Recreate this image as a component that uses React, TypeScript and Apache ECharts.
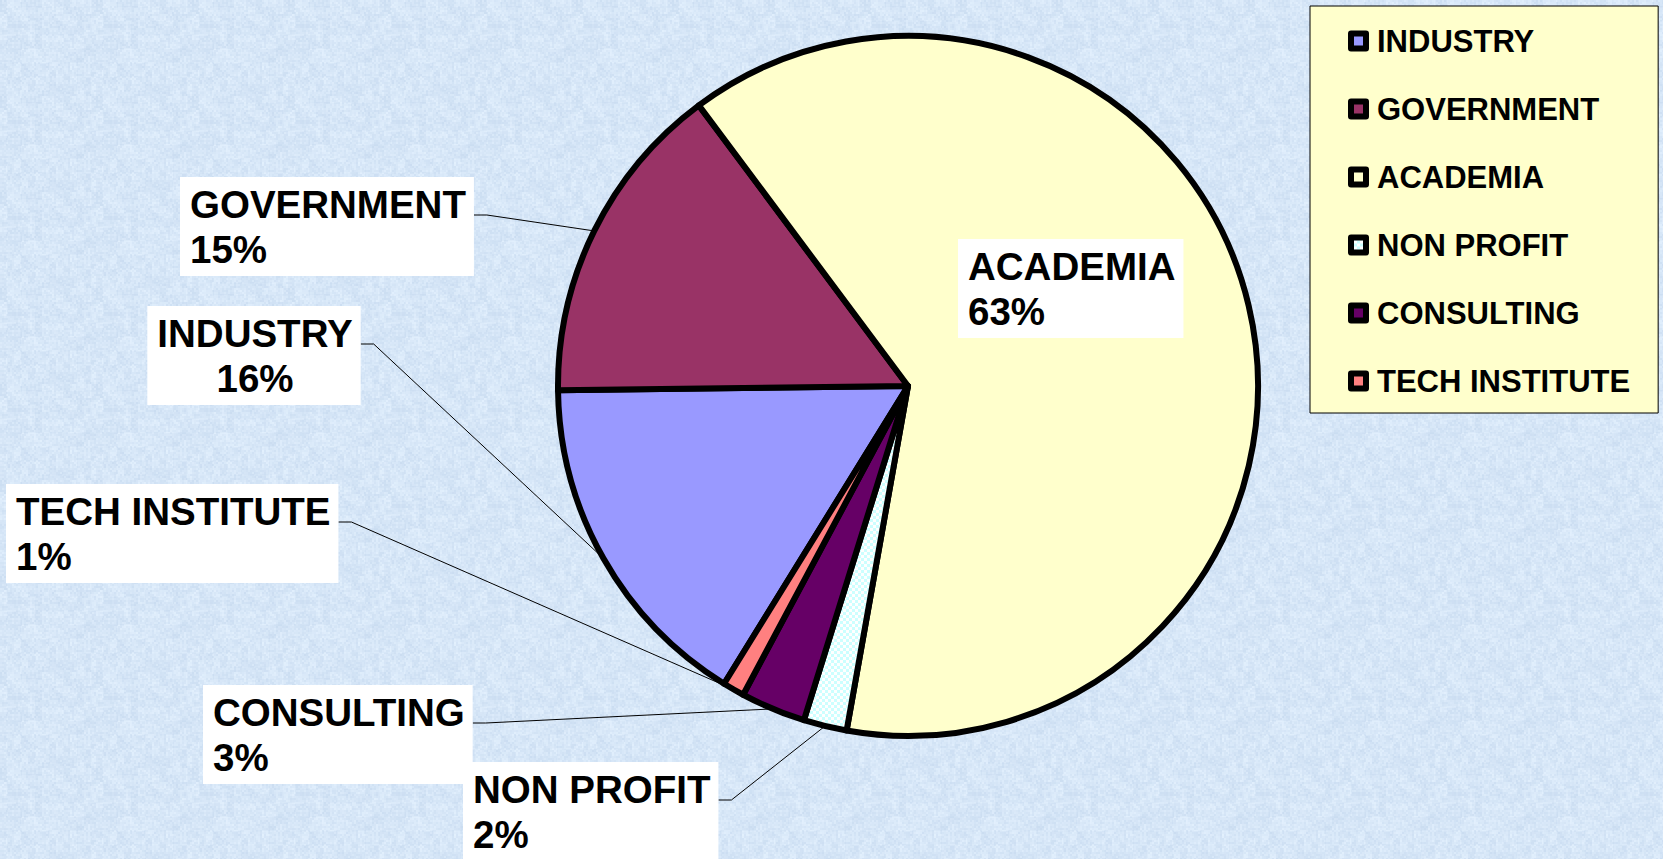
import React, { useEffect, useRef } from 'react';
import * as echarts from 'echarts';

// ---- data ----
const categories = ['INDUSTRY', 'GOVERNMENT', 'ACADEMIA', 'NON PROFIT', 'CONSULTING', 'TECH INSTITUTE'];
const shares = [16, 15, 63, 2, 3, 1];

// ---- styles ----
const sliceColors = ['#9999FF', '#993366', '#FFFFCC', 'PATTERN', '#660066', '#FF8080'];
const labelAnchors = [
  { x: 254, y: 306, align: 'center', line: true },
  { x: 180, y: 177, align: 'left', line: true },
  { x: 958, y: 239, align: 'left', line: false },
  { x: 463, y: 762, align: 'left', line: true },
  { x: 203, y: 685, align: 'left', line: true },
  { x: 6, y: 484, align: 'left', line: true },
];
const FONT = 'Arial, "Liberation Sans", sans-serif';

function makeChecker(): HTMLCanvasElement {
  const c = document.createElement('canvas');
  c.width = 6;
  c.height = 6;
  const ctx = c.getContext('2d')!;
  ctx.fillStyle = '#CCFFFF';
  ctx.fillRect(0, 0, 6, 6);
  ctx.fillStyle = '#FFFFFF';
  ctx.fillRect(0, 0, 3, 3);
  ctx.fillRect(3, 3, 3, 3);
  return c;
}

// subtle paper-like background texture (deterministic hash, no randomness)
function makeTexture(): HTMLCanvasElement {
  const size = 96;
  const c = document.createElement('canvas');
  c.width = size;
  c.height = size;
  const ctx = c.getContext('2d')!;
  const img = ctx.createImageData(size, size);
  const hash = (x: number, y: number) => {
    const s = Math.sin(x * 12.9898 + y * 78.233) * 43758.5453;
    return s - Math.floor(s);
  };
  for (let y = 0; y < size; y++) {
    for (let x = 0; x < size; x++) {
      const h = hash(Math.floor(x / 2), Math.floor(y / 2));
      const h2 = hash(Math.floor(x / 7) + 31, Math.floor(y / 7) + 17);
      const v = (h - 0.5) * 14 + (h2 - 0.5) * 10;
      const i = (y * size + x) * 4;
      img.data[i] = Math.max(0, Math.min(255, 214 + v));
      img.data[i + 1] = Math.max(0, Math.min(255, 230 + v * 0.8));
      img.data[i + 2] = Math.max(0, Math.min(255, 247 + v * 0.5));
      img.data[i + 3] = 255;
    }
  }
  ctx.putImageData(img, 0, 0);
  return c;
}

export default function App() {
  const ref = useRef<HTMLDivElement>(null);
  useEffect(() => {
    if (!ref.current) return;
    const chart = echarts.init(ref.current, undefined, { renderer: 'svg' });
    const checker = makeChecker();
    const texture = makeTexture();
    const data = categories.map((name, i) => ({
      name,
      value: shares[i],
      itemStyle: {
        color:
          sliceColors[i] === 'PATTERN'
            ? ({ image: checker, repeat: 'repeat' } as any)
            : sliceColors[i],
      },
      labelLine: { show: labelAnchors[i].line },
    }));
    chart.setOption({
      animation: false,
      backgroundColor: '#D7E7F7',
      graphic: {
        elements: [
          {
            type: 'rect',
            z: -100,
            silent: true,
            shape: { x: 0, y: 0, width: 1663, height: 859 },
            style: { fill: { image: texture, repeat: 'repeat' } as any },
          },
        ],
      },
      legend: {
        orient: 'vertical',
        left: 1310,
        top: 6,
        data: categories,
        selectedMode: false,
        icon: 'rect',
        itemWidth: 15,
        itemHeight: 15,
        itemGap: 32,
        itemStyle: { borderColor: '#000', borderWidth: 6 },
        textStyle: {
          fontSize: 31,
          fontWeight: 'bold',
          color: '#000',
          fontFamily: FONT,
          lineHeight: 36,
          padding: [0, 0, 0, 6],
        },
        backgroundColor: '#FFFFCC',
        borderColor: '#000',
        borderWidth: 1,
        padding: [17, 28, 14, 38],
      },
      series: [
        {
          type: 'pie',
          center: [908, 386],
          radius: 350,
          startAngle: 238.3,
          clockwise: true,
          avoidLabelOverlap: false,
          data,
          itemStyle: { borderColor: '#000', borderWidth: 6 },
          emphasis: { disabled: true },
          label: {
            show: true,
            position: 'outside',
            formatter: (p: any) => `${p.name}\n${Math.round(p.percent)}%`,
            fontSize: 38.5,
            fontWeight: 'bold',
            fontFamily: FONT,
            color: '#000',
            lineHeight: 45,
            backgroundColor: '#FFFFFF',
            padding: [5, 8, 4, 10],
          },
          labelLine: {
            show: true,
            length: 10,
            length2: 10,
            lineStyle: { color: '#000', width: 1 },
          },
          labelLayout: (params: any) => {
            const a = labelAnchors[params.dataIndex];
            const r = params.labelRect;
            const w = r.width;
            const left = a.align === 'center' ? a.x - w / 2 : a.x;
            const right = left + w;
            const lineY = a.y + 38;
            const res: any = {
              x: a.x,
              y: a.y,
              align: a.align,
              verticalAlign: 'top',
            };
            if (a.line && params.labelLinePoints) {
              const p0 = params.labelLinePoints[0];
              res.labelLinePoints = [p0, [right + 13, lineY], [right, lineY]];
            }
            return res;
          },
        },
      ],
    });
    return () => chart.dispose();
  }, []);
  return (
    <div
      ref={ref}
      style={{ position: 'fixed', left: 0, top: 0, width: 1663, height: 859 }}
    />
  );
}
